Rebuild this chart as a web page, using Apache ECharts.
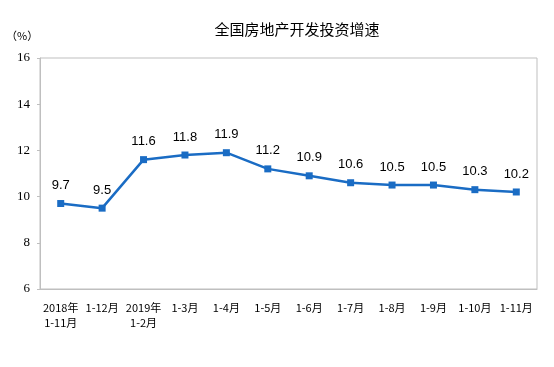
<!DOCTYPE html>
<html><head><meta charset="utf-8">
<script src="https://cdn.jsdelivr.net/npm/echarts@6/dist/echarts.min.js"></script>
<style>html,body{margin:0;padding:0;background:#fff}#c{width:554px;height:367px}</style>
</head><body><div id="c"></div>
<script>
const categories = ['2018年\n1-11月','1-12月','2019年\n1-2月','1-3月','1-4月','1-5月','1-6月','1-7月','1-8月','1-9月','1-10月','1-11月'];
const growth = [9.7, 9.5, 11.6, 11.8, 11.9, 11.2, 10.9, 10.6, 10.5, 10.5, 10.3, 10.2];
const yTicks = {min: 6, max: 16, interval: 2};
const titleText = '全国房地产开发投资增速';
const unitText = '（%）';

const chart = echarts.init(document.getElementById('c'), null, {renderer: 'canvas'});
chart.setOption({
  animation: false,
  backgroundColor: '#fff',
  title: {
    text: titleText, left: 292, top: 17, textAlign: 'center',
    textStyle: {fontFamily: 'Noto Sans CJK SC', fontSize: 15, fontWeight: 'normal', color: '#000'}
  },
  graphic: [{
    type: 'text', left: 6, top: 30,
    style: {text: unitText, fontFamily: 'Noto Sans CJK SC', fontSize: 11, fill: '#000'}
  }],
  grid: {left: 40, right: 17, top: 58, bottom: 78, show: true, borderColor: '#bfbfbf', borderWidth: 1},
  xAxis: {
    type: 'category', data: categories, boundaryGap: true,
    axisLine: {lineStyle: {color: '#bfbfbf'}},
    axisTick: {inside: true, length: 4, lineStyle: {color: '#bfbfbf'}},
    axisLabel: {interval: 0, margin: 11, lineHeight: 15, fontFamily: 'Noto Sans CJK SC', fontSize: 11, color: '#000'}
  },
  yAxis: {
    type: 'value', min: yTicks.min, max: yTicks.max, interval: yTicks.interval,
    splitLine: {show: false},
    axisLine: {show: true, lineStyle: {color: '#bfbfbf'}},
    axisTick: {show: true, length: 3, lineStyle: {color: '#bfbfbf'}},
    axisLabel: {margin: 10, fontFamily: 'Liberation Serif', fontSize: 13, color: '#000'}
  },
  series: [{
    type: 'line', data: growth,
    symbol: 'rect', symbolSize: 7,
    lineStyle: {color: '#1a6cc4', width: 2.5},
    itemStyle: {color: '#1a6cc4'},
    label: {show: true, position: 'top', distance: 8, fontFamily: 'Liberation Sans', fontSize: 13, color: '#000'}
  }]
});
</script></body></html>
